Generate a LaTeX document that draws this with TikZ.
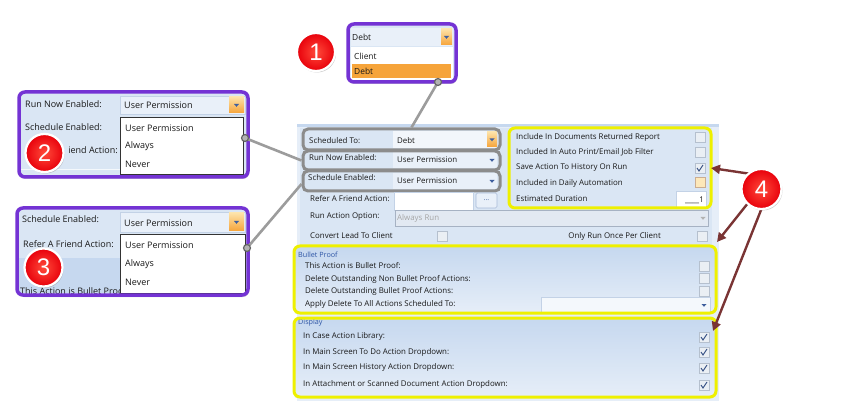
\documentclass[tikz,border=0pt]{standalone}
\usepackage{fontspec}
\setmainfont{Open Sans}
\newfontfamily\numfont{Liberation Sans}
\usetikzlibrary{shadows,arrows.meta,calc}
\definecolor{pnl}{HTML}{DAE6F4}
\definecolor{pnlout}{HTML}{E6EEF8}
\definecolor{purp}{HTML}{7433D4}
\definecolor{yel}{HTML}{EEF000}
\definecolor{gbox}{HTML}{8C8C8C}
\definecolor{connc}{HTML}{9C9C9C}
\definecolor{brn}{HTML}{7A3434}
\definecolor{fld}{HTML}{E9F0F9}
\definecolor{fldb}{HTML}{C3D2E6}
\definecolor{arrc}{HTML}{3F5F9E}
\definecolor{tickc}{HTML}{2F4A80}
\definecolor{cbb}{HTML}{B5C0CE}
\definecolor{secblue}{HTML}{2E56A6}
\definecolor{hdr}{HTML}{C6D8EF}
\definecolor{org}{HTML}{F6A43A}
\definecolor{orgl}{HTML}{FDE2A8}
\definecolor{redc}{HTML}{E8000B}
\definecolor{redl}{HTML}{FF4A3A}
\newcommand\cbx[2]{\draw[cbb, fill=black!4!white!60!pnl, line width=.6pt] ({#1-5},{#2-5}) rectangle ({#1+5},{#2+5});}
\newcommand\cbt[2]{\cbx{#1}{#2}\draw[tickc, line width=.9pt] ({#1-3},{#2}) -- ({#1-1},{#2+3}) -- ({#1+3},{#2-3});}
\newcommand\ddarr[2]{\fill[arrc] ({#1-2.5},{#2-1}) -- ({#1+2.5},{#2-1}) -- ({#1},{#2+1.8}) -- cycle;}
\newcommand\obtn[4]{\shade[top color=orgl, bottom color=org] ({#1},{#2}) rectangle ({#3},{#4});\ddarr{(#1+#3)/2}{(#2+#4)/2}}
\begin{document}
\begin{tikzpicture}[x=1pt,y=-1pt,
  lbl/.style={anchor=west, inner sep=0pt, text=black!90, font=\fontsize{7.9}{9}\selectfont},
  clbl/.style={lbl, font=\fontsize{9}{10}\selectfont},
  sec/.style={anchor=west, inner sep=0pt, text=secblue, font=\fontsize{7.2}{8}\selectfont},
  fieldbox/.style={draw=fldb, fill=fld, line width=.5pt},
  listbox/.style={draw=black!80, fill=white, line width=.6pt},
  graybox/.style={draw=gbox, line width=3pt, rounded corners=5pt, inner sep=0pt},
  yellowbox/.style={draw=yel, line width=3pt, rounded corners=6pt, inner sep=0pt},
  pfill/.style={fill=pnl, rounded corners=6pt, inner sep=0pt, drop shadow={opacity=.35, shadow xshift=1pt, shadow yshift=-2pt}},
  pdraw/.style={draw=purp, line width=3.5pt, rounded corners=6pt, inner sep=0pt},
  num/.style={circle, minimum size=38pt, inner sep=0pt, draw=white, line width=2.2pt, inner color=redl, outer color=redc,
     text=white, font=\numfont\fontsize{24}{24}\selectfont, drop shadow={opacity=.4, shadow xshift=1pt, shadow yshift=-1.5pt}},
  connector/.style={draw=connc, line width=2.6pt},
  ring/.style={circle, minimum size=7pt, inner sep=0pt, draw=black!60, line width=1.2pt, fill=black!30},
  arr4/.style={draw=brn, line width=2.4pt, -{Triangle[length=9pt,width=9pt]}}
]
\useasboundingbox (0,0) rectangle (855,401);
\fill[white] (0,0) rectangle (855,401);

% ---------- main panel ----------
\fill[pnlout] (297,124) rectangle (719,401);
\fill[pnl] (300,128) rectangle (712,245);
\fill[hdr] (297,124) rectangle (719,127);
\shade[top color=hdr, bottom color=pnlout] (295,247) rectangle (715,313);
\shade[top color=hdr, bottom color=pnlout] (295,318) rectangle (715,397);

% rows in gray boxes
\node[lbl] at (309,141) {Scheduled To:};
\fill[white!40!fld] (393,131) rectangle (497,148);
\node[lbl] at (397,141) {Debt};
\obtn{487}{132}{497}{147}
\node[lbl] at (309,158) {Run Now Enabled:};
\fill[fld] (393,152) rectangle (497,168);
\node[lbl] at (397,160) {User Permission};
\ddarr{492}{160}
\node[lbl] at (308,178) {Schedule Enabled:};
\fill[fld] (393,173) rectangle (497,189);
\node[lbl] at (397,181) {User Permission};
\ddarr{492}{181}

\node[graybox, minimum width=197pt, minimum height=21pt] (gA) at (401.5,139.5) {};
\node[graybox, minimum width=197pt, minimum height=19pt] (gB) at (401.5,160.5) {};
\node[graybox, minimum width=197pt, minimum height=20pt] (gC) at (401.5,181) {};

% other rows
\node[lbl] at (310,199) {Refer A Friend Action:};
\draw[draw=fldb, fill=white, line width=.5pt] (394,192) rectangle (473,210);
\draw[draw=fldb!80!arrc, fill=fld, line width=.6pt, rounded corners=1.5pt] (476,193) rectangle (497,208);
\node[inner sep=0pt, text=arrc, font=\fontsize{7}{8}\selectfont] (dots) at (486.5,200) {...};
\node[lbl] at (310,217) {Run Action Option:};
\draw[draw=black!15!fldb, fill=black!3!fld, line width=.5pt] (395,210) rectangle (708,226);
\node[lbl, text=black!35] at (397,218) {Always Run};
\fill[black!30] (700.5,217) -- (705.5,217) -- (703,219.8) -- cycle;
\node[lbl] at (310,236) {Convert Lead To Client};
\cbx{442}{236}
\node[lbl, anchor=east] at (661,236) {Only Run Once Per Client};
\cbx{702}{236}

% top-right yellow group
\node[lbl] at (516,137) {Include In Documents Returned Report};
\node[lbl] at (516,152) {Included In Auto Print/Email Job Filter};
\node[lbl] at (516,168) {Save Action To History On Run};
\node[lbl] at (516,183) {Included in Daily Automation};
\node[lbl] at (516,199) {Estimated Duration};
\cbx{700}{137}
\cbx{700}{152}
\cbt{700}{168}
\draw[cbb!70!orange, fill=orgl!80!white, line width=.6pt] (695,177) rectangle (705,187);
\draw[draw=fldb, fill=white, line width=.5pt] (676,191) rectangle (706,207);
\node[lbl, anchor=east] at (704,200) {\_\_\_\_1};
\node[yellowbox, minimum width=202pt, minimum height=80pt] (yTop) at (610,168) {};

% Bullet Proof
\node[sec] at (298,255) {Bullet Proof};
\node[lbl] at (305,266) {This Action is Bullet Proof:};
\node[lbl] at (305,279) {Delete Outstanding Non Bullet Proof Actions:};
\node[lbl] at (305,291) {Delete Outstanding Bullet Proof Actions:};
\node[lbl] at (305,304) {Apply Delete To All Actions Scheduled To:};
\cbx{704}{266}
\cbx{704}{278}
\cbx{704}{291}
\draw[draw=fldb, fill=white!50!fld, line width=.5pt] (541,297) rectangle (710,312);
\ddarr{704}{305}
\node[yellowbox, minimum width=422pt, minimum height=67pt] (yBP) at (505,279.5) {};

% Display
\node[sec] at (298,323) {Display};
\node[lbl] at (303,336) {In Case Action Library:};
\node[lbl] at (303,352) {In Main Screen To Do Action Dropdown:};
\node[lbl] at (303,367) {In Main Screen History Action Dropdown:};
\node[lbl] at (303,384) {In Attachment or Scanned Document Action Dropdown:};
\cbt{704}{337}
\cbt{704}{352}
\cbt{704}{368}
\cbt{704}{385}
\node[yellowbox, minimum width=422pt, minimum height=79pt] (yDi) at (505,357.5) {};

% ---------- callout 1 ----------
\node[pfill, minimum width=108pt, minimum height=58pt] at (402,53) {};
\fill[fld] (351,28) rectangle (453,46);
\node[clbl, font=\fontsize{8.4}{10}\selectfont] at (352,37) {Debt};
\obtn{441}{29}{452}{45}
\fill[white] (351,47) rectangle (453,80);
\node[clbl, font=\fontsize{8.4}{10}\selectfont] at (354,56) {Client};
\fill[org] (352,64) rectangle (451,78);
\node[clbl, font=\fontsize{8.4}{10}\selectfont] at (354,71) {Debt};
\node[pdraw, minimum width=108pt, minimum height=58pt] (c1) at (402,53) {};

% ---------- callout 2 ----------
\node[pfill, minimum width=229pt, minimum height=85pt] at (133.5,134.5) {};
\node[clbl] at (25,104) {Run Now Enabled:};
\draw[fieldbox] (120,96) rectangle (245,114);
\node[clbl] at (124,105) {User Permission};
\obtn{229}{97}{244}{113}
\node[clbl] at (25,127) {Schedule Enabled:};
\node[clbl, anchor=east] at (118,150) {iend Action:};
\draw[white!70!pnl, line width=1pt] (20,170) -- (120,170);
\draw[listbox] (120,117) rectangle (243,174);
\node[clbl] at (125,128) {User Permission};
\node[clbl] at (125,146) {Always};
\node[clbl] at (125,164) {Never};
\node[pdraw, minimum width=229pt, minimum height=85pt] (c2) at (133.5,134.5) {};

% ---------- callout 3 ----------
\node[pfill, minimum width=231pt, minimum height=87pt] at (132.5,251.5) {};
\begin{scope}
\clip (19,210) rectangle (246,293);
\fill[hdr] (19,258) rectangle (120,293);
\node[clbl] at (20,291) {This Action is Bullet Proof:};
\end{scope}
\node[clbl] at (22,219) {Schedule Enabled:};
\draw[fieldbox] (120,212) rectangle (245,232);
\node[clbl] at (124,223) {User Permission};
\obtn{229}{213}{244}{231}
\node[clbl] at (23,244) {Refer A Friend Action:};
\draw[listbox] (120,234) rectangle (245,293);
\node[clbl] at (125,245) {User Permission};
\node[clbl] at (125,264) {Always};
\node[clbl] at (125,282) {Never};
\node[pdraw, minimum width=231pt, minimum height=87pt] (c3) at (132.5,251.5) {};

% ---------- number badges ----------
\node[num] (n1) at (316,52) {1};
\node[num] (n2) at (44.5,153) {2};
\node[num] (n3) at (43.5,267.5) {3};

% ---------- connectors ----------
\coordinate (r1) at (438,82);
\coordinate (r2) at (245,138);
\coordinate (r3) at (247,248);
\draw[connector] (r1) -- ($(gA.north west)!0.55!(gA.north east)$);
\draw[connector] (r2) -- (gB.west);
\draw[connector] (r3) -- ($(gC.west)+(0,3)$);
\node[ring] at (r1) {};
\node[ring] at (r2) {};
\node[ring] at (r3) {};

% ---------- callout 4 ----------
\coordinate (s1) at (758,175);
\coordinate (s2) at (752,198);
\coordinate (s3) at (765,200);
\coordinate (t1) at (711,168);
\coordinate (t2) at (717,242);
\coordinate (t3) at (713,331);
\draw[arr4] (s1) -- (t1);
\draw[arr4] (s2) -- (t2);
\draw[arr4] (s3) -- (t3);
\node[num, minimum size=40pt] (n4) at (761.5,189) {4};
\end{tikzpicture}
\end{document}
